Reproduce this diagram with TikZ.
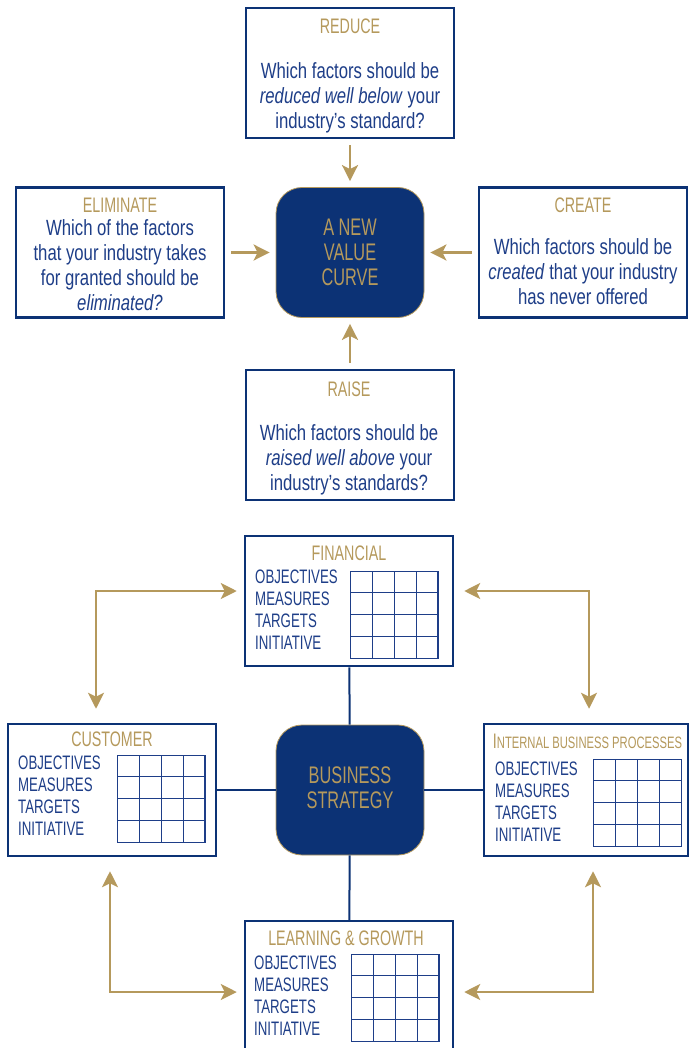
\documentclass[tikz,border=0pt]{standalone}
\usepackage{fontspec}
\setmainfont{Liberation Sans}[FakeStretch=0.76]
\newfontfamily\narrowf{Liberation Sans}[FakeStretch=0.68]
\usepackage{tikz}
\usetikzlibrary{arrows.meta}
\definecolor{navy}{RGB}{12,50,117}
\definecolor{ink}{RGB}{30,62,136}
\definecolor{gold}{RGB}{181,153,92}

\begin{document}
\begin{tikzpicture}[x=1pt, y=-1pt,
  frame/.style={draw=navy, line width=2.5pt, fill=white, minimum width=208pt, minimum height=130pt, inner sep=0pt},
  hub/.style={draw=gold, line width=0.8pt, fill=navy, rounded corners=26pt, minimum width=148pt, minimum height=130pt, inner sep=0pt},
  ttl/.style={anchor=base, text=gold, font=\narrowf\fontsize{21}{25}\selectfont, inner sep=0pt},
  txt/.style={anchor=base, align=center, text=ink, font=\fontsize{22}{25}\selectfont, inner sep=0pt},
  hubtxt/.style={anchor=base, align=center, text=gold, font=\narrowf\fontsize{24}{25}\selectfont, inner sep=0pt},
  kpi/.style={anchor=base west, align=left, text=ink, font=\narrowf\fontsize{19.5}{22}\selectfont, inner sep=0pt},
  gridl/.style={draw=ink, line width=1pt},
  link/.style={draw=navy, line width=2pt},
  arr/.style={-{Stealth[length=16pt, width=16pt, inset=4pt]}, gold, line width=2.5pt, shorten <=6pt, shorten >=6pt},
  dbl/.style={{Stealth[length=16pt, width=16pt, inset=4pt]}-{Stealth[length=16pt, width=16pt, inset=4pt]}, gold, line width=2.5pt}]
  \useasboundingbox (0,0) rectangle (689,1048);

  % four actions around the value curve (text nodes sit on their last baseline)
  \node[frame] (reduce) at (350,73)    {};
  \node[frame] (elim)   at (120,252.5) {};
  \node[frame] (create) at (583,252.5) {};
  \node[frame] (raise)  at (350,435)   {};
  \node[hub]   (vc)     at (350,252.5) {};
  \node[ttl] (reducet) at (350,33.5)  {REDUCE};
  \node[txt] (reducex) at (350,129)   {Which factors should be\\\textit{reduced well below} your\\industry's standard?};
  \node[ttl] (elimt)   at (120,212.5) {ELIMINATE};
  \node[txt, font=\fontsize{22}{24.7}\selectfont] (elimx) at (120,310)
    {Which of the factors\\that your industry takes\\for granted should be\\\textit{eliminated?}};
  \node[ttl] (createt) at (583,212.5) {CREATE};
  \node[txt, font=\fontsize{22}{25.5}\selectfont] (createx) at (583,305)
    {Which factors should be\\\textit{created} that your industry\\has never offered};
  \node[ttl] (raiset)  at (349,396.5) {RAISE};
  \node[txt] (raisex)  at (349,490)   {Which factors should be\\\textit{raised well above} your\\industry's standards?};
  \node[hubtxt] (vcx)  at (350,285.5) {A NEW\\VALUE\\CURVE};
  \draw[arr] (reduce) -- (vc);
  \draw[arr] (elim) -- (vc);
  \draw[arr] (create) -- (vc);
  \draw[arr] (raise) -- (vc);

  % balanced scorecard
  \node[frame] (fin)  at (349,601) {};
  \node[frame, minimum height=132pt] (cust) at (112,790) {};
  \node[frame, minimum width=204pt, minimum height=132pt] (ibp) at (586,790) {};
  \node[frame, minimum height=134pt] (lg) at (349,988) {};
  \node[hub]   (bs)   at (350,790) {};
  \draw[link] (fin) -- (bs);
  \draw[link] (bs) -- (lg);
  \draw[link] (cust) -- (bs);
  \draw[link] (bs) -- (ibp);
  \node[hubtxt] (bsx) at (350,808.5) {BUSINESS\\STRATEGY};
  \node[ttl] (fint)  at (349,560.5) {FINANCIAL};
  \node[ttl] (custt) at (112,746.5) {CUSTOMER};
  \node[ttl] (ibpt)  at (587.5,748) {I{\fontsize{16.5}{20}\selectfont NTERNAL BUSINESS PROCESSES}};
  \node[ttl] (lgt)   at (346,945.5) {LEARNING \& GROWTH};
  \node[kpi] (finl)  at (255,649)  {OBJECTIVES\\MEASURES\\TARGETS\\INITIATIVE};
  \node[kpi] (custl) at (18,835)   {OBJECTIVES\\MEASURES\\TARGETS\\INITIATIVE};
  \node[kpi] (ibpl)  at (495,841)  {OBJECTIVES\\MEASURES\\TARGETS\\INITIATIVE};
  \node[kpi] (lgl)   at (254,1035) {OBJECTIVES\\MEASURES\\TARGETS\\INITIATIVE};
  % 4x4 grids beside the row labels
  \draw[gridl, shift={(350,571)}] (0,0) grid[xstep=22pt, ystep=21.75pt] (88,87) (0,0) rectangle (88,87);
  \draw[gridl, shift={(117,755)}] (0,0) grid[xstep=22pt, ystep=21.75pt] (88,87) (0,0) rectangle (88,87);
  \draw[gridl, shift={(593,759)}] (0,0) grid[xstep=22pt, ystep=21.75pt] (88,87) (0,0) rectangle (88,87);
  \draw[gridl, shift={(351,954)}] (0,0) grid[xstep=22pt, ystep=21.75pt] (88,87) (0,0) rectangle (88,87);
  \draw[dbl] ([shift={(-7,-10)}]fin.west) -| ([shift={(-16,-14)}]cust.north);
  \draw[dbl] ([shift={(10,-10)}]fin.east) -| ([shift={(3,-14)}]ibp.north);
  \draw[dbl] ([shift={(-7,4)}]lg.west) -| ([shift={(-2,14)}]cust.south);
  \draw[dbl] ([shift={(10,4)}]lg.east) -| ([shift={(7,14)}]ibp.south);
\end{tikzpicture}
\end{document}
